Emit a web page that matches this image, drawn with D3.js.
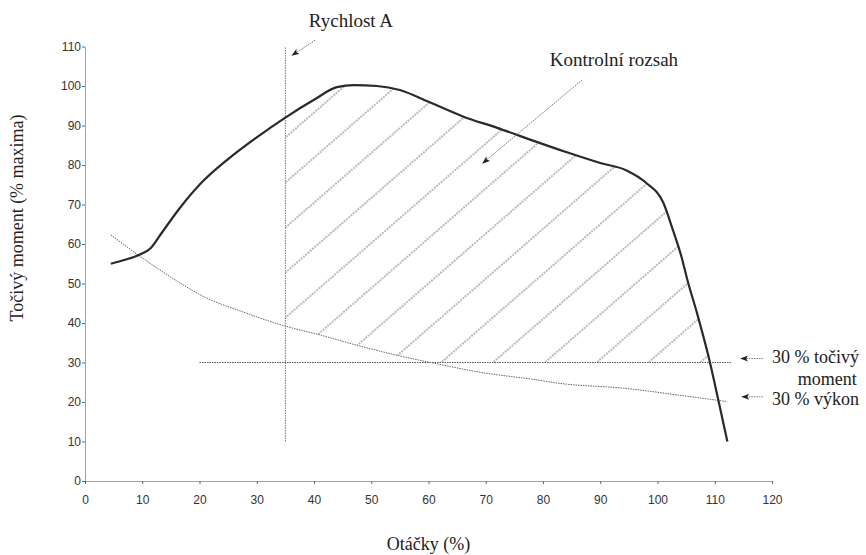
<!DOCTYPE html>
<html>
<head>
<meta charset="utf-8">
<script src="https://cdn.jsdelivr.net/npm/d3@7"></script>
<style>
  body { margin: 0; background: #fff; }
  svg { display: block; }
</style>
</head>
<body>
<svg id="chart"></svg>
<script>
// Torque curve (% of max) vs speed (%)
const torqueRpm = [4.5, 7, 9.5, 11.5, 13, 16.5, 20, 25, 30, 35, 40, 44, 47, 51, 55, 60, 66, 72, 78, 84, 90, 94.5, 98, 101, 102.7, 104.2, 105.2, 107, 109, 110.7, 112.2];
const torqueVal = [55, 56, 57.3, 59, 62, 69, 75, 81.5, 87, 92, 96.5, 99.7, 100.2, 100, 99, 96, 92.3, 89.4, 86.3, 83.3, 80.5, 78.7, 75.5, 70.5, 63.5, 56.7, 51, 42, 31, 20, 10];

// 30 % power curve
const powerRpm = [4.5, 9.7, 14.9, 21, 27.4, 35, 41, 47.4, 54.3, 61, 70, 78, 83, 94, 106, 112.2];
const powerVal = [62.3, 56.8, 51.7, 46.5, 42.9, 39.2, 37, 34.4, 31.9, 29.8, 27.3, 25.8, 24.7, 23.5, 21.3, 20.1];

// reference lines
const speedA = 35, speedALine = [10, 110];
const limitTorque = 30, limitSpan = [20, 113];

const xTickValues = [0, 10, 20, 30, 40, 50, 60, 70, 80, 90, 100, 110, 120];
const yTickValues = [0, 10, 20, 30, 40, 50, 60, 70, 80, 90, 100, 110];

const width = 866, height = 555;
const serif = "'Liberation Serif', 'DejaVu Serif', serif";

const svg = d3.select("#chart")
  .attr("width", width)
  .attr("height", height);

const x = d3.scaleLinear().domain([0, 120]).range([85, 772]);
const y = d3.scaleLinear().domain([0, 110]).range([481, 46.5]);

const torque = d3.zip(torqueRpm, torqueVal);
const power = d3.zip(powerRpm, powerVal);

const defs = svg.append("defs");

// arrow head
defs.append("marker")
  .attr("id", "arrow")
  .attr("viewBox", "0 0 8 6")
  .attr("refX", 7).attr("refY", 3)
  .attr("markerWidth", 8).attr("markerHeight", 6)
  .attr("markerUnits", "userSpaceOnUse")
  .attr("orient", "auto")
  .append("path")
  .attr("d", "M0,0L8,3L0,6L2,3Z")
  .attr("fill", "#222");

// hatch pattern for the control range
const hatch = defs.append("pattern")
  .attr("id", "hatch")
  .attr("patternUnits", "userSpaceOnUse")
  .attr("width", 42).attr("height", 34)
  .attr("patternTransform", `translate(${x(speedA)},${y(87.3)}) rotate(-41)`);
hatch.append("line")
  .attr("x1", 0).attr("x2", 42).attr("y1", 1).attr("y2", 1)
  .attr("stroke", "#666").attr("stroke-width", 0.9)
  .attr("stroke-dasharray", "2,1");

// clip: under torque curve, above power curve, above 30 % torque, right of speed A
defs.append("clipPath").attr("id", "underTorque")
  .append("path")
  .attr("d", d3.area().x(d => x(d[0])).y0(y(0)).y1(d => y(d[1])).curve(d3.curveMonotoneX)(torque));
defs.append("clipPath").attr("id", "abovePower")
  .append("path")
  .attr("d", d3.area().x(d => x(d[0])).y0(y(110)).y1(d => y(d[1])).curve(d3.curveMonotoneX)(power));
defs.append("clipPath").attr("id", "aboveLimit")
  .append("rect")
  .attr("x", x(speedA)).attr("y", y(110))
  .attr("width", x(120) - x(speedA)).attr("height", y(limitTorque) - y(110));

svg.append("g").attr("clip-path", "url(#underTorque)")
  .append("g").attr("clip-path", "url(#abovePower)")
  .append("g").attr("clip-path", "url(#aboveLimit)")
  .append("rect")
  .attr("x", x(speedA)).attr("y", y(110))
  .attr("width", x(120) - x(speedA)).attr("height", y(limitTorque) - y(110))
  .attr("fill", "url(#hatch)");

// axes
const xAxis = svg.append("g")
  .attr("transform", `translate(0,${y(0)})`)
  .call(d3.axisBottom(x).tickValues(xTickValues).tickSize(3).tickSizeOuter(0).tickPadding(11));
const yAxis = svg.append("g")
  .attr("transform", `translate(${x(0)},0)`)
  .call(d3.axisLeft(y).tickValues(yTickValues).tickSize(3).tickSizeOuter(0).tickPadding(1));

[xAxis, yAxis].forEach(g => {
  g.select(".domain").attr("stroke", "#444").attr("stroke-dasharray", "1,1");
  g.selectAll(".tick line").attr("stroke", "#666");
  g.selectAll(".tick text")
    .attr("font-family", "'Liberation Sans', Arial, sans-serif")
    .attr("font-size", 12)
    .attr("fill", "#333");
});

// vertical line at speed A
svg.append("line")
  .attr("x1", x(speedA)).attr("x2", x(speedA))
  .attr("y1", y(speedALine[0])).attr("y2", y(speedALine[1]))
  .attr("stroke", "#777").attr("stroke-width", 1)
  .attr("stroke-dasharray", "1.5,1");

// 30 % torque line
svg.append("line")
  .attr("x1", x(limitSpan[0])).attr("x2", x(limitSpan[1]))
  .attr("y1", y(limitTorque)).attr("y2", y(limitTorque))
  .attr("stroke", "#555").attr("stroke-width", 1)
  .attr("stroke-dasharray", "1.5,1");

const line = d3.line().x(d => x(d[0])).y(d => y(d[1])).curve(d3.curveMonotoneX);

// 30 % power curve
svg.append("path")
  .datum(power)
  .attr("d", line)
  .attr("fill", "none")
  .attr("stroke", "#666").attr("stroke-width", 1)
  .attr("stroke-dasharray", "1.5,1");

// torque curve
svg.append("path")
  .datum(torque)
  .attr("d", line)
  .attr("fill", "none")
  .attr("stroke", "#2a2a2a").attr("stroke-width", 2.2)
  .attr("stroke-linejoin", "round");

// annotation arrows
const arrows = [
  [[40.2, 111.6], [36.2, 107.8]],
  [[86.8, 101.5], [69.5, 80.5]],
  [[118.4, 31], [114.6, 31]],
  [[118.4, 21.3], [114.8, 21.3]]
];
svg.append("g")
  .selectAll("line")
  .data(arrows)
  .join("line")
  .attr("x1", d => x(d[0][0])).attr("y1", d => y(d[0][1]))
  .attr("x2", d => x(d[1][0])).attr("y2", d => y(d[1][1]))
  .attr("stroke", "#777").attr("stroke-width", 1)
  .attr("stroke-dasharray", "1.5,1")
  .attr("marker-end", "url(#arrow)");

// annotation texts
const notes = [
  { text: "Rychlost A", at: [39.1, 115], size: 19 },
  { text: "Kontrolní rozsah", at: [81.2, 105.1], size: 19 },
  { text: "30 % točivý", at: [120, 30], size: 18 },
  { text: "moment", at: [124.5, 24.3], size: 18 },
  { text: "30 % výkon", at: [120, 19.2], size: 18 }
];
svg.append("g")
  .selectAll("text")
  .data(notes)
  .join("text")
  .attr("x", d => x(d.at[0]))
  .attr("y", d => y(d.at[1]))
  .attr("font-family", serif)
  .attr("font-size", d => d.size)
  .attr("fill", "#222")
  .text(d => d.text);

// axis titles
svg.append("text")
  .attr("x", (x(0) + x(120)) / 2)
  .attr("y", 550)
  .attr("text-anchor", "middle")
  .attr("font-family", serif)
  .attr("font-size", 18)
  .attr("fill", "#222")
  .text("Otáčky (%)");

svg.append("text")
  .attr("transform", "translate(23,218) rotate(-90)")
  .attr("text-anchor", "middle")
  .attr("font-family", serif)
  .attr("font-size", 18)
  .attr("fill", "#222")
  .text("Točivý moment (% maxima)");
</script>
</body>
</html>
